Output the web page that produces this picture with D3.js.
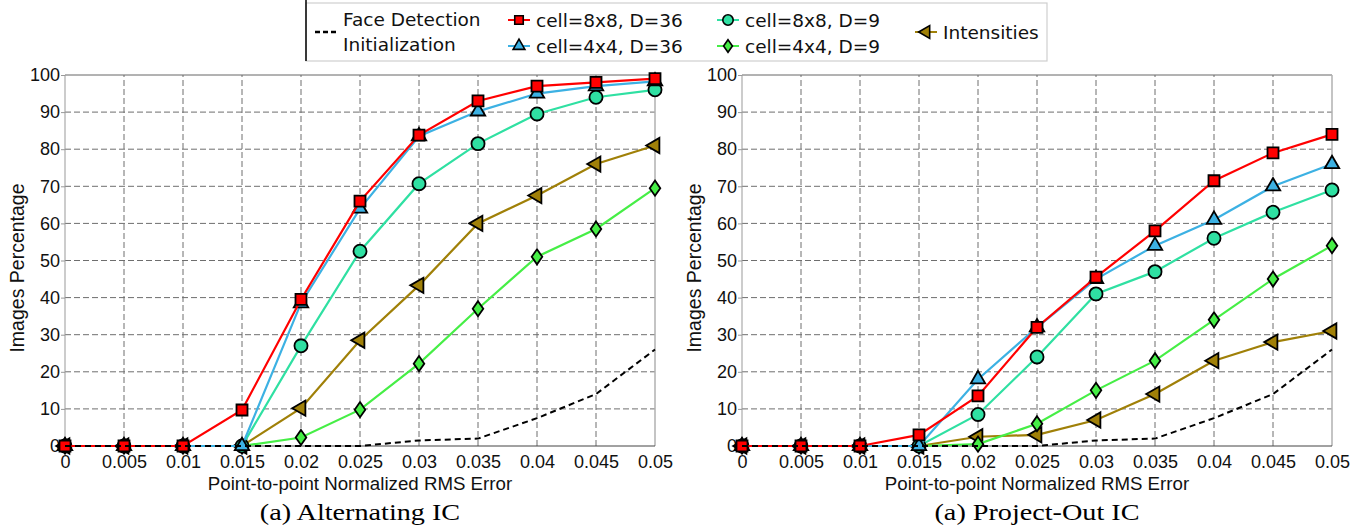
<!DOCTYPE html>
<html>
<head>
<meta charset="utf-8">
<script src="https://cdn.jsdelivr.net/npm/d3@7"></script>
<style>
  body { margin: 0; background: #fff; }
  svg { display: block; }
</style>
</head>
<body>
<svg id="chart" width="1364" height="529"></svg>
<script>
// x positions (normalized RMS error) and y ticks
var errorTicks = [0, 0.005, 0.01, 0.015, 0.02, 0.025, 0.03, 0.035, 0.04, 0.045, 0.05];
var percentTicks = [0, 10, 20, 30, 40, 50, 60, 70, 80, 90, 100];

// (a) Alternating IC
var altCell8D36 = [0, 0, 0, 9.7, 39.5, 66, 83.8, 93, 97, 98, 99];
var altCell4D36 = [0, 0, 0, 0, 38.5, 64, 83.5, 90.2, 95, 97, 98.3];
var altCell8D9  = [0, 0, 0, 0, 27, 52.5, 70.7, 81.5, 89.5, 94, 96];
var altCell4D9  = [0, 0, 0, 0, 2.3, 9.8, 22.2, 37, 51, 58.5, 69.5];
var altIntens   = [0, 0, 0, 0, 10.2, 28.5, 43.3, 60, 67.5, 76, 81];

// (a) Project-Out IC
var poCell8D36 = [0, 0, 0, 3, 13.5, 32, 45.5, 58, 71.5, 79, 84];
var poCell4D36 = [0, 0, 0, 0, 18, 32, 45, 54, 61, 70, 76];
var poCell8D9  = [0, 0, 0, 0, 8.5, 24, 41, 47, 56, 63, 69];
var poCell4D9  = [0, 0, 0, 0, 0.5, 6, 15, 23, 34, 45, 54];
var poIntens   = [0, 0, 0, 0, 2.5, 3, 7, 14, 23, 28, 31];

// face detection initialization (same in both)
var faceInit = [0, 0, 0, 0, 0, 0, 1.5, 2, 7.5, 14, 26];

var seriesNames = ["cell=8x8, D=36", "cell=4x4, D=36", "cell=8x8, D=9", "cell=4x4, D=9", "Intensities"];

// a fatter diamond than d3.symbolDiamond
var wideDiamond = {
  draw: function (ctx, size) {
    var h = Math.sqrt(size / 1.4), w = h * 0.7;
    ctx.moveTo(0, -h); ctx.lineTo(w, 0); ctx.lineTo(0, h); ctx.lineTo(-w, 0); ctx.closePath();
  }
};

var styles = {
  "cell=8x8, D=36": {color: "#ff0000", shape: d3.symbolSquare, size: 121, lsize: 72, rot: 0},
  "cell=4x4, D=36": {color: "#3cb1e3", shape: d3.symbolTriangle, size: 90, lsize: 60, rot: 0},
  "cell=8x8, D=9":  {color: "#2fe0a2", shape: d3.symbolCircle, size: 135, lsize: 85, rot: 0},
  "cell=4x4, D=9":  {color: "#46ee46", shape: wideDiamond, size: 80, lsize: 56, rot: 0},
  "Intensities":    {color: "#a08008", shape: d3.symbolTriangle, size: 100, lsize: 70, rot: -90}
};

var svg = d3.select("#chart");
var axisFont = "'Liberation Sans', Arial, sans-serif";

function drawPanel(x0, x1, values, caption) {
  var x = d3.scaleLinear().domain([0, 0.05]).range([x0, x1]);
  var y = d3.scaleLinear().domain([0, 100]).range([446, 75]);
  var g = svg.append("g");

  // grid
  g.selectAll(".vg").data(errorTicks.slice(1, -1)).enter().append("line")
    .attr("x1", d => x(d)).attr("x2", d => x(d))
    .attr("y1", y(0)).attr("y2", y(100))
    .attr("stroke", "#6e6e6e").attr("stroke-dasharray", "6,3").attr("stroke-width", 1);
  g.selectAll(".hg").data(percentTicks.slice(1, -1)).enter().append("line")
    .attr("x1", x0).attr("x2", x1)
    .attr("y1", d => y(d)).attr("y2", d => y(d))
    .attr("stroke", "#6e6e6e").attr("stroke-dasharray", "6,3").attr("stroke-width", 1);

  // frame
  g.append("line").attr("x1", x0).attr("x2", x1).attr("y1", y(100)).attr("y2", y(100)).attr("stroke", "#666");
  g.append("line").attr("x1", x1).attr("x2", x1).attr("y1", y(100)).attr("y2", y(0)).attr("stroke", "#b0b0b0").attr("stroke-width", 1.5);
  g.append("line").attr("x1", x0).attr("x2", x0).attr("y1", y(100)).attr("y2", y(0)).attr("stroke", "#999");
  g.append("line").attr("x1", x0).attr("x2", x1).attr("y1", y(0)).attr("y2", y(0)).attr("stroke", "#444");

  // axes
  var ya = g.append("g").attr("transform", "translate(" + x0 + ",0)")
    .call(d3.axisLeft(y).tickValues(percentTicks).tickSize(4).tickPadding(1));
  ya.select(".domain").remove();
  ya.selectAll("line").attr("stroke", "#999");
  ya.selectAll("text").attr("font-family", axisFont).attr("font-size", "18px").attr("fill", "#111");

  var xa = g.append("g").attr("transform", "translate(0," + y(0) + ")")
    .call(d3.axisBottom(x).tickValues(errorTicks).tickSize(0).tickPadding(9)
      .tickFormat(d => String(+d.toFixed(3))));
  xa.select(".domain").remove();
  xa.selectAll("text").attr("font-family", axisFont).attr("font-size", "18px").attr("fill", "#111");

  var line = d3.line().x((d, i) => x(errorTicks[i])).y(d => y(d));

  // series, drawn back to front
  var order = ["Intensities", "cell=4x4, D=9", "cell=8x8, D=9", "cell=4x4, D=36", "cell=8x8, D=36"];
  order.forEach(function (name) {
    var st = styles[name];
    var vals = values[name];
    g.append("path").datum(vals).attr("d", line)
      .attr("fill", "none").attr("stroke", st.color).attr("stroke-width", 2.2);
    g.selectAll(null).data(vals).enter().append("path")
      .attr("d", d3.symbol().type(st.shape).size(st.size))
      .attr("transform", (d, i) => "translate(" + x(errorTicks[i]) + "," + y(d) + ") rotate(" + st.rot + ")")
      .attr("fill", st.color).attr("stroke", "#000").attr("stroke-width", 1.8);
  });

  g.append("path").datum(faceInit).attr("d", line)
    .attr("fill", "none").attr("stroke", "#000").attr("stroke-width", 2).attr("stroke-dasharray", "6,4");

  // titles
  var cx = (x0 + x1) / 2;
  g.append("text").attr("x", cx).attr("y", 490).attr("text-anchor", "middle")
    .attr("font-family", axisFont).attr("font-size", "18.7px").attr("fill", "#111")
    .text("Point-to-point Normalized RMS Error");
  g.append("text").attr("transform", "translate(" + (x0 - 41) + ",268) rotate(-90)")
    .attr("text-anchor", "middle")
    .attr("font-family", axisFont).attr("font-size", "19.5px").attr("fill", "#111")
    .text("Images Percentage");
  g.append("text").attr("transform", "translate(" + cx + ",520) scale(1.2,1)")
    .attr("text-anchor", "middle")
    .attr("font-family", "'Liberation Serif', 'Times New Roman', serif").attr("font-size", "23.5px").attr("fill", "#000")
    .text(caption);
}

drawPanel(65, 655, {
  "cell=8x8, D=36": altCell8D36, "cell=4x4, D=36": altCell4D36,
  "cell=8x8, D=9": altCell8D9, "cell=4x4, D=9": altCell4D9, "Intensities": altIntens
}, "(a) Alternating IC");

drawPanel(742, 1332, {
  "cell=8x8, D=36": poCell8D36, "cell=4x4, D=36": poCell4D36,
  "cell=8x8, D=9": poCell8D9, "cell=4x4, D=9": poCell4D9, "Intensities": poIntens
}, "(a) Project-Out IC");

// legend
var lg = svg.append("g");
var legendFont = "'DejaVu Sans', sans-serif";
lg.append("rect").attr("x", 306).attr("y", 3).attr("width", 741).attr("height", 58)
  .attr("fill", "#fff").attr("stroke", "#cfcfcf").attr("stroke-width", 1.2);
lg.append("line").attr("x1", 306).attr("x2", 306).attr("y1", 0).attr("y2", 61)
  .attr("stroke", "#000").attr("stroke-width", 1.5);

lg.append("line").attr("x1", 315).attr("x2", 338).attr("y1", 32).attr("y2", 32)
  .attr("stroke", "#000").attr("stroke-width", 2.5).attr("stroke-dasharray", "5,3");
lg.append("text").attr("x", 343).attr("y", 26).attr("font-family", legendFont).attr("font-size", "18.5px")
  .attr("fill", "#111").text("Face Detection");
lg.append("text").attr("x", 343).attr("y", 51).attr("font-family", legendFont).attr("font-size", "18.5px")
  .attr("fill", "#111").text("Initialization");

var legendPos = [[519, 20], [519, 46], [728, 20], [728, 46], [926, 32]];
seriesNames.forEach(function (name, i) {
  var st = styles[name];
  var p = legendPos[i];
  lg.append("line").attr("x1", p[0] - 11).attr("x2", p[0] + 11).attr("y1", p[1]).attr("y2", p[1])
    .attr("stroke", st.color).attr("stroke-width", 2);
  lg.append("path").attr("d", d3.symbol().type(st.shape).size(st.lsize))
    .attr("transform", "translate(" + p[0] + "," + p[1] + ") rotate(" + st.rot + ")")
    .attr("fill", st.color).attr("stroke", "#000").attr("stroke-width", 1.6);
  lg.append("text").attr("x", p[0] + 17).attr("y", p[1] + 6.5)
    .attr("font-family", legendFont).attr("font-size", "18.5px").attr("fill", "#111").text(name);
});
</script>
</body>
</html>
